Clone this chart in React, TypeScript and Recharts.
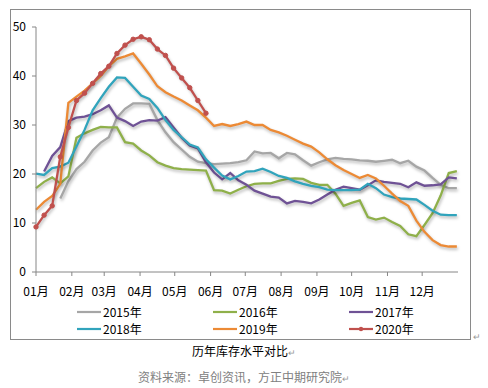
import { CartesianGrid, Line, LineChart, XAxis, YAxis } from 'recharts';

// weekly points, x = day of year
const days = [
  0, 7, 14, 21, 28, 35, 42, 49, 56, 63, 70, 77, 84, 91, 98, 105, 112, 119, 126, 133, 140, 147, 154, 161,
  168, 175, 182, 189, 196, 203, 210, 217, 224, 231, 238, 245, 252, 259, 266, 273, 280, 287, 294, 301,
  308, 315, 322, 329, 336, 343, 350, 357, 364,
];

const monthStarts = [0, 31, 59, 90, 120, 151, 181, 212, 243, 273, 304, 334];
const monthLabels = ['01月', '02月', '03月', '04月', '05月', '06月', '07月', '08月', '09月', '10月', '11月', '12月'];
const yTicks = [0, 10, 20, 30, 40, 50];

const s2015 = [
  null, null, null, 15, 18.5, 21, 22.5, 24.8, 26.4, 27.5, 31.5, 33.3, 34.4, 34.4, 34.3, 31, 28.5, 26.5, 25,
  23.5, 22.5, 22.2, 22, 22.1, 22.2, 22.4, 22.8, 24.6, 24.2, 24.3, 23.2, 24.3, 24, 22.8, 21.7, 22.4, 23, 23.3,
  23.1, 23, 22.8, 22.7, 22.5, 22.7, 22.9, 22.2, 22.7, 21.5, 20.7, 19.2, 17.8, 17.1, 17.1,
];
const s2016 = [
  17.1, 18.4, 19.3, 18.1, 19.5, 27.4, 28.3, 29, 29.6, 29.5, 29.5, 26.5, 26.2, 24.8, 23.8, 22.4, 21.7, 21.2,
  21, 20.9, 20.8, 20.7, 16.7, 16.6, 16, 16.8, 17.5, 18, 18.1, 18.1, 18.6, 19, 19.1, 19, 18.2, 17.8, 17.8, 16,
  13.5, 14.1, 14.6, 11.2, 10.7, 11.1, 10.2, 9.4, 7.7, 7.3, 9.6, 12, 15.6, 20.2, 20.6,
];
const s2017 = [
  null, 20.5, 23.7, 25.5, 30.8, 31.5, 31.7, 32.2, 33, 34, 31.5, 30.8, 29.8, 30.7, 31, 30.9, 31.6, 29.5, 27.4,
  25.8, 25.2, 22.4, 20.3, 18.9, 20.2, 18.7, 17.8, 16.6, 16, 15.4, 15.2, 14, 14.5, 14.3, 14, 14.8, 15.8, 16.8,
  17.4, 17.1, 16.8, 17.7, 18.7, 18.4, 18.2, 18, 17.3, 18.3, 17.6, 17.7, 17.9, 19.3, 19.1,
];
const s2018 = [
  20.1, 19.8, 21.2, 21.5, 22.3, 25.6, 29, 33, 35.5, 37.8, 39.7, 39.6, 37.8, 36, 35.3, 33.5, 31, 29, 27.5, 26,
  25.4, 23, 21.3, 19.7, 18.9, 19.6, 20.5, 20.6, 21.1, 20.4, 19.6, 19.2, 18.5, 18, 17.6, 17.3, 16.8, 16.7,
  16.7, 16.7, 16.8, 18, 17.1, 15.8, 15.3, 15, 14.9, 14.8, 13.7, 12.5, 11.7, 11.6, 11.6,
];
const s2019 = [
  12.7, 14.3, 15.5, 18, 34.5, 35.8, 37, 38.5, 40, 42, 43.5, 44, 44.6, 42.5, 40.3, 37.9, 36.7, 35.8, 35, 34,
  33, 31.5, 29.8, 30.2, 29.8, 30.2, 30.7, 30, 30, 29, 28.5, 27.8, 27, 26.2, 25.6, 24.4, 23, 21.8, 20.8, 20,
  19.2, 19.8, 19.1, 17.6, 16, 14.5, 13.5, 10.5, 8.2, 6.5, 5.5, 5.2, 5.2,
];
const s2020 = [
  9.2, 11.6, 13.5, 23.5, 29.5, 35, 36.5, 38.5, 40.5, 42, 44.6, 46.3, 47.5, 48, 47.4, 45.5, 44.2, 41.6, 39.6,
  37.6, 35, 32.4,
];

const series = [
  { key: 'y2015', name: '2015年', values: s2015, color: '#a6a6a6' },
  { key: 'y2016', name: '2016年', values: s2016, color: '#8fb04a' },
  { key: 'y2017', name: '2017年', values: s2017, color: '#6f5295' },
  { key: 'y2018', name: '2018年', values: s2018, color: '#31a4bc' },
  { key: 'y2019', name: '2019年', values: s2019, color: '#ec8a35' },
  { key: 'y2020', name: '2020年', values: s2020, color: '#c0504d' },
];

const rows = days.map((day, i) => {
  const row: Record<string, number | null> = { day };
  series.forEach((s) => {
    row[s.key] = i < s.values.length ? s.values[i] : null;
  });
  return row;
});

const font = '"Noto Sans CJK SC", "Noto Sans", sans-serif';
const legendCols = [77, 213, 349];
const legendRows = [312, 329];

const App = () => {
  return (
    <div style={{ position: 'absolute', left: 0, top: 0, width: 488, height: 388, fontFamily: font }}>
      <style>{`.recharts-line-curve{filter:drop-shadow(1px 2px 1.5px rgba(0,0,0,0.28));}`}</style>
      <div
        style={{
          position: 'absolute',
          left: 10,
          top: 9,
          width: 461,
          height: 331,
          border: '1px solid #8a8a8a',
          boxSizing: 'border-box',
        }}
      />
      <div style={{ position: 'absolute', left: 0, top: 0 }}>
        <LineChart width={488} height={305} data={rows} margin={{ top: 27, right: 30, left: 10, bottom: 3 }}>
          <CartesianGrid stroke="none" />
          <XAxis
            type="number"
            dataKey="day"
            domain={[0, 365]}
            ticks={monthStarts}
            interval={0}
            tickFormatter={(v: number) => monthLabels[monthStarts.indexOf(v)]}
            height={30}
            tickSize={4}
            tickMargin={11}
            stroke="#868686"
            tick={{ fill: '#000', fontSize: 12, fontFamily: font }}
          />
          <YAxis
            domain={[0, 50]}
            ticks={yTicks}
            width={26}
            tickSize={4}
            tickMargin={6}
            stroke="#868686"
            tick={{ fill: '#000', fontSize: 12, fontFamily: font }}
          />
          {series.map((s) => (
            <Line
              key={s.key}
              type="linear"
              dataKey={s.key}
              name={s.name}
              stroke={s.color}
              strokeWidth={2.3}
              dot={s.key === 'y2020' ? { r: 2.2, fill: s.color, stroke: s.color, strokeWidth: 1 } : false}
              connectNulls={false}
              isAnimationActive={false}
            />
          ))}
        </LineChart>
      </div>

      {series.map((s, i) => {
        const left = legendCols[i % 3];
        const top = legendRows[Math.floor(i / 3)];
        return (
          <div key={s.key} style={{ position: 'absolute', left, top: top - 9, height: 18, display: 'flex', alignItems: 'center' }}>
            <svg width={26} height={18}>
              <line x1={0} y1={9} x2={24} y2={9} stroke={s.color} strokeWidth={2.2} />
              {s.key === 'y2020' && <circle cx={12} cy={9} r={2.2} fill={s.color} />}
            </svg>
            <span style={{ fontSize: 12, color: '#000', lineHeight: '18px' }}>{s.name}</span>
          </div>
        );
      })}

      <div style={{ position: 'absolute', left: 473, top: 330, fontSize: 9, color: '#999' }}>↵</div>
      <div style={{ position: 'absolute', left: 0, width: 488, top: 342, textAlign: 'center', fontSize: 12, color: '#000' }}>
        历年库存水平对比<span style={{ fontSize: 9, color: '#999' }}>↵</span>
      </div>
      <div style={{ position: 'absolute', left: 0, width: 488, top: 368, textAlign: 'center', fontSize: 12, color: '#808080' }}>
        资料来源：卓创资讯，方正中期研究院<span style={{ fontSize: 9, color: '#999' }}>↵</span>
      </div>
    </div>
  );
};

export default App;
